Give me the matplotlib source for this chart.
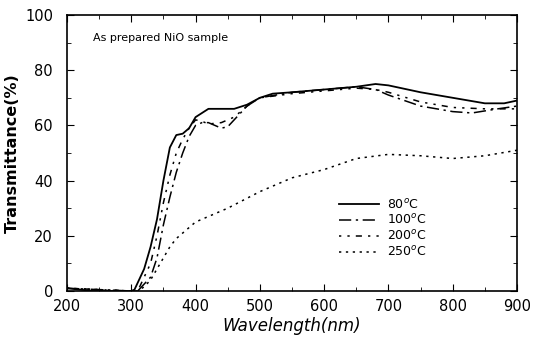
import numpy as np
import matplotlib.pyplot as plt
from matplotlib.ticker import MultipleLocator

# values
wl_80 = [200, 220, 240, 300, 305, 320, 330, 340, 350, 360, 370, 380, 390, 400, 420, 440, 460, 480, 500, 520, 550, 600, 650, 680, 700, 750, 800, 850, 880, 900]
t_80 = [1, 0.5, 0, 0, 0.5, 8, 16, 26, 40, 52, 56.5, 57, 59, 63, 66, 66, 66, 67.5, 70, 71.5, 72, 73, 74, 75, 74.5, 72, 70, 68, 68, 69]

wl_100 = [200, 300, 310, 330, 340, 350, 360, 370, 380, 390, 400, 410, 420, 430, 440, 450, 460, 480, 500, 550, 600, 650, 680, 700, 750, 800, 830, 870, 900]
t_100 = [1, 0, 0, 5, 12, 24, 34, 43, 50, 56, 60, 61, 61, 60, 59, 59.5, 62, 67, 70, 72, 73, 74, 73, 71, 67, 65, 64.5, 66, 67]

wl_200 = [200, 300, 310, 330, 340, 350, 360, 370, 380, 390, 400, 410, 420, 440, 460, 480, 500, 550, 600, 650, 680, 700, 750, 800, 850, 900]
t_200 = [1, 0, 0, 10, 20, 32, 42, 50, 55, 59, 62, 61.5, 60.5, 61, 63, 67, 70, 71.5, 72.5, 73.5, 73, 72, 68.5, 66.5, 66, 66]

wl_250 = [200, 300, 310, 320, 330, 340, 350, 360, 370, 380, 400, 420, 450, 500, 550, 600, 650, 700, 750, 800, 850, 900]
t_250 = [1, 0, 0, 1.5, 4, 8, 12, 16, 19, 21, 25, 27, 30, 36, 41, 44, 48, 49.5, 49, 48, 49, 51]

labels = ['80$^o$C', '100$^o$C', '200$^o$C', '250$^o$C']

plt.rcParams['font.family'] = 'DejaVu Sans'
plt.rcParams['font.size'] = 8.5

fig = plt.figure(figsize=(5.33, 3.37), dpi=100)
ax = fig.add_axes([67 / 533, 1 - 291 / 337, 450 / 533, 276 / 337])

ax.plot(wl_80, t_80, color='black', linewidth=1.3, linestyle='-', label=labels[0])
ax.plot(wl_100, t_100, color='black', linewidth=1.1, linestyle=(0, (8, 3, 1.5, 3)), label=labels[1])
ax.plot(wl_200, t_200, color='black', linewidth=1.1, linestyle=(0, (1.5, 4, 1.5, 4, 4, 4)), label=labels[2])
ax.plot(wl_250, t_250, color='black', linewidth=1.1, linestyle=(0, (1.5, 3)), label=labels[3])

ax.set_xlim(200, 900)
ax.set_ylim(0, 100)
ax.xaxis.set_major_locator(MultipleLocator(100))
ax.xaxis.set_minor_locator(MultipleLocator(50))
ax.yaxis.set_major_locator(MultipleLocator(20))
ax.yaxis.set_minor_locator(MultipleLocator(10))
ax.tick_params(which='both', direction='in', top=True, right=True, labelsize=10.5)
ax.tick_params(which='major', length=5)
ax.tick_params(which='minor', length=3)
ax.tick_params(axis='x', which='major', pad=6)
ax.tick_params(axis='y', which='major', pad=10)
for s in ax.spines.values():
    s.set_linewidth(1.2)

ax.set_xlabel('Wavelength(nm)', fontsize=12, style='italic', labelpad=2)
ax.set_ylabel('Transmittance(%)', fontsize=11.5, fontweight='bold', labelpad=4)
ax.text(0.058, 0.917, 'As prepared NiO sample', transform=ax.transAxes, fontsize=8, va='center')

ax.legend(loc='lower left', bbox_to_anchor=(0.58, 0.075), frameon=False, fontsize=9,
          handlelength=3.2, labelspacing=0.15, handletextpad=0.6)

fig.savefig('out.png', dpi=100)
